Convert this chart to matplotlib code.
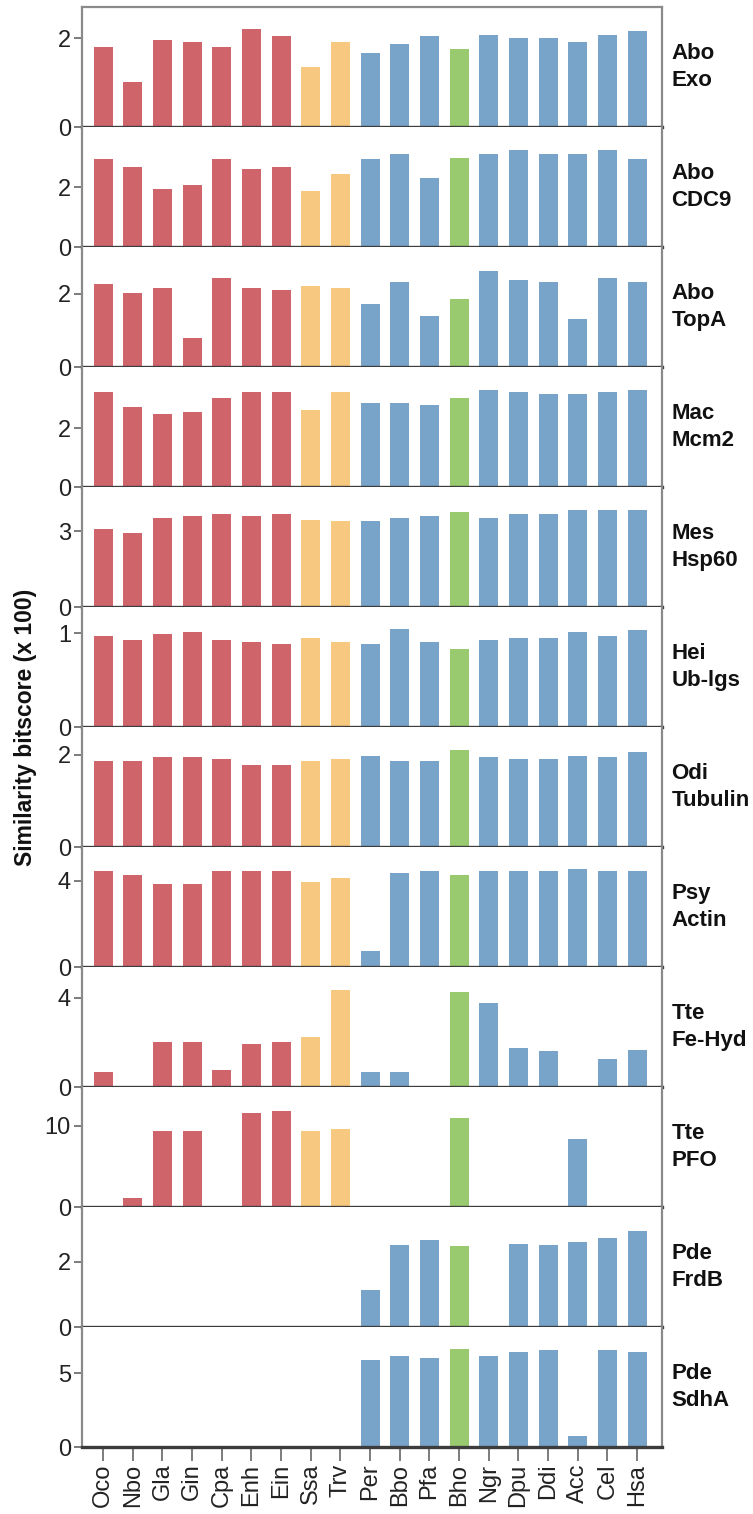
import numpy as np
import matplotlib.pyplot as plt

plt.rcParams['font.family'] = ['Liberation Sans', 'DejaVu Sans']

# Таксоны и их группы
species = ['Oco', 'Nbo', 'Gla', 'Gin', 'Cpa', 'Enh', 'Ein', 'Ssa', 'Trv', 'Per',
           'Bbo', 'Pfa', 'Bho', 'Ngr', 'Dpu', 'Ddi', 'Acc', 'Cel', 'Hsa']
groups = ['r'] * 7 + ['o'] * 2 + ['b'] * 3 + ['g'] + ['b'] * 6
group_colors = {'r': '#cf646b', 'o': '#f7c880', 'b': '#78a4c9', 'g': '#99ca6f'}

# Подписи панелей
panel_labels = ['Abo\nExo', 'Abo\nCDC9', 'Abo\nTopA', 'Mac\nMcm2', 'Mes\nHsp60', 'Hei\nUb-lgs',
                'Odi\nTubulin', 'Psy\nActin', 'Tte\nFe-Hyd', 'Tte\nPFO', 'Pde\nFrdB', 'Pde\nSdhA']

# Значения (x 100)
abo_exo = [1.80, 1.02, 1.95, 1.91, 1.80, 2.20, 2.05, 1.36, 1.91, 1.66,
           1.86, 2.05, 1.75, 2.07, 2.00, 2.00, 1.91, 2.07, 2.16]
abo_cdc9 = [2.93, 2.67, 1.93, 2.07, 2.93, 2.60, 2.67, 1.87, 2.43, 2.93,
            3.10, 2.30, 2.97, 3.10, 3.23, 3.10, 3.10, 3.23, 2.93]
abo_topa = [2.27, 2.03, 2.14, 0.78, 2.43, 2.16, 2.10, 2.22, 2.16, 1.73,
            2.32, 1.38, 1.86, 2.62, 2.38, 2.32, 1.32, 2.43, 2.32]
mac_mcm2 = [3.22, 2.71, 2.47, 2.54, 3.02, 3.22, 3.22, 2.61, 3.22, 2.85,
            2.85, 2.78, 3.02, 3.29, 3.22, 3.15, 3.15, 3.22, 3.29]
mes_hsp60 = [3.08, 2.92, 3.52, 3.60, 3.67, 3.60, 3.67, 3.44, 3.40, 3.40,
             3.52, 3.60, 3.75, 3.52, 3.67, 3.67, 3.83, 3.83, 3.83]
hei_ublgs = [0.97, 0.93, 0.99, 1.01, 0.93, 0.91, 0.89, 0.95, 0.91, 0.89,
             1.05, 0.91, 0.83, 0.93, 0.95, 0.95, 1.01, 0.97, 1.03]
odi_tubulin = [1.86, 1.86, 1.94, 1.94, 1.91, 1.78, 1.78, 1.86, 1.91, 1.98,
               1.86, 1.86, 2.10, 1.94, 1.91, 1.91, 1.98, 1.94, 2.06]
psy_actin = [4.47, 4.28, 3.86, 3.86, 4.47, 4.47, 4.47, 3.95, 4.14, 0.74,
             4.37, 4.47, 4.28, 4.47, 4.47, 4.47, 4.56, 4.47, 4.47]
tte_fehyd = [0.69, 0, 2.02, 2.02, 0.78, 1.93, 2.02, 2.26, 4.34, 0.69,
             0.69, 0, 4.25, 3.75, 1.75, 1.60, 0, 1.26, 1.68]
tte_pfo = [0, 1.15, 9.38, 9.38, 0, 11.65, 11.90, 9.38, 9.59, 0,
           0, 0, 10.95, 0, 0, 0, 8.44, 0, 0]
pde_frdb = [0, 0, 0, 0, 0, 0, 0, 0, 0, 1.14,
            2.52, 2.68, 2.49, 0, 2.55, 2.52, 2.62, 2.74, 2.95]
pde_sdha = [0, 0, 0, 0, 0, 0, 0, 0, 0, 5.90,
            6.19, 6.05, 6.67, 6.19, 6.44, 6.56, 0.74, 6.56, 6.44]

panel_values = [abo_exo, abo_cdc9, abo_topa, mac_mcm2, mes_hsp60, hei_ublgs,
                odi_tubulin, psy_actin, tte_fehyd, tte_pfo, pde_frdb, pde_sdha]
y_max = [2.7, 4.0, 3.27, 4.07, 4.74, 1.28, 2.6, 5.58, 5.38, 14.8, 3.69, 8.14]
y_ticks = [[0, 2], [0, 2], [0, 2], [0, 2], [0, 3], [0, 1], [0, 2], [0, 4],
           [0, 4], [0, 10], [0, 2], [0, 5]]


def main():
    fig = plt.figure(figsize=(7.53, 15.14), dpi=100)
    left, right = 82 / 753, 662 / 753
    top_px, panel_px = 7, 120
    x = np.arange(len(species))
    colors = [group_colors[g] for g in groups]
    n = len(panel_values)
    for i in range(n):
        bottom = 1 - (top_px + panel_px * (i + 1)) / 1514
        ax = fig.add_axes([left, bottom, right - left, panel_px / 1514])
        ax.bar(x, panel_values[i], width=0.64, color=colors, zorder=2)
        ax.set_xlim(-0.71, 18.84)
        ax.set_ylim(0, y_max[i])
        ax.set_yticks(y_ticks[i])
        ax.tick_params(axis='y', length=6, width=1.2, color='#666666',
                       labelsize=17, labelcolor='#222222', pad=2)
        for side in ['left', 'right']:
            ax.spines[side].set_color('#8a8a8a')
            ax.spines[side].set_linewidth(1.6)
        ax.spines['bottom'].set_color('#3c3c3c')
        ax.spines['bottom'].set_linewidth(2.4)
        ax.spines['bottom'].set_zorder(3)
        if i == 0:
            ax.spines['top'].set_color('#8a8a8a')
            ax.spines['top'].set_linewidth(1.6)
        else:
            ax.spines['top'].set_visible(False)
        if i < n - 1:
            ax.set_xticks([])
        else:
            ax.set_xticks(x)
            ax.set_xticklabels(species, rotation=90, fontsize=17, color='#222222')
            ax.tick_params(axis='x', length=10, width=1.2, color='#666666', pad=2)
        ax.text(1.016, 0.5, panel_labels[i], transform=ax.transAxes, fontsize=16,
                fontweight='bold', ha='left', va='center', linespacing=1.35,
                color='#111111')
    fig.text(0.034, 1 - 727 / 1514, 'Similarity bitscore (x 100)', rotation=90,
             fontsize=16.5, fontweight='bold', ha='center', va='center', color='#111111')
    fig.savefig('out.png', dpi=100)


if __name__ == '__main__':
    main()
